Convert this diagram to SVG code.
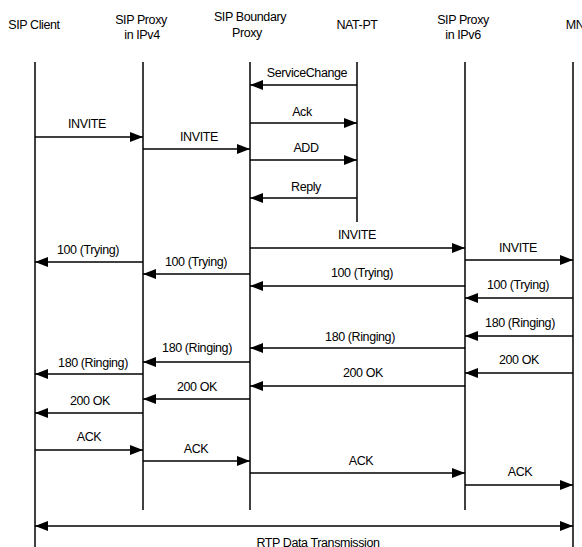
<svg xmlns="http://www.w3.org/2000/svg" width="582" height="547" viewBox="0 0 582 547">
<style>
text{font-family:"Liberation Sans",Arial,sans-serif;font-size:12.5px;letter-spacing:-0.4px;fill:#000;text-anchor:middle}
.life{stroke:#000;stroke-width:1.5;fill:none}
.msg{stroke:#000;stroke-width:1.3;fill:none;marker-end:url(#ah)}
</style>
<defs>
<marker id="ah" markerWidth="13" markerHeight="10" refX="13" refY="5" orient="auto-start-reverse" markerUnits="userSpaceOnUse">
<path d="M0,0 L13,5 L0,10 z" fill="#000"/>
</marker>
</defs>
<rect width="582" height="547" fill="#fff"/>
<g id="sip-client">
<text x="34" y="29">SIP Client</text>
<line class="life" x1="35" y1="62" x2="35" y2="547"/>
</g>
<g id="sip-proxy-ipv4">
<text x="141" y="24">SIP Proxy</text>
<text x="142" y="39">in IPv4</text>
<line class="life" x1="143" y1="62" x2="143" y2="510"/>
</g>
<g id="sip-boundary-proxy">
<text x="250" y="21">SIP Boundary</text>
<text x="247" y="37">Proxy</text>
<line class="life" x1="250" y1="62" x2="250" y2="510"/>
</g>
<g id="nat-pt">
<text x="357" y="29">NAT-PT</text>
<line class="life" x1="357" y1="62" x2="357" y2="222"/>
</g>
<g id="sip-proxy-ipv6">
<text x="463" y="24">SIP Proxy</text>
<text x="463" y="39">in IPv6</text>
<line class="life" x1="465" y1="62" x2="465" y2="510"/>
</g>
<g id="mn">
<text x="575" y="29">MN</text>
<line class="life" x1="573" y1="62" x2="573" y2="547"/>
</g>
<g id="connectors">
<line class="msg" x1="357" y1="85" x2="250" y2="85"/>
<text x="307" y="77">ServiceChange</text>
<line class="msg" x1="250" y1="123" x2="357" y2="123"/>
<text x="302" y="116">Ack</text>
<line class="msg" x1="250" y1="160" x2="357" y2="160"/>
<text x="306" y="152">ADD</text>
<line class="msg" x1="357" y1="198" x2="250" y2="198"/>
<text x="306" y="191">Reply</text>
<line class="msg" x1="35" y1="137" x2="143" y2="137"/>
<text x="87" y="128">INVITE</text>
<line class="msg" x1="143" y1="149" x2="250" y2="149"/>
<text x="199" y="141">INVITE</text>
<line class="msg" x1="250" y1="248" x2="465" y2="248"/>
<text x="357" y="239">INVITE</text>
<line class="msg" x1="465" y1="260" x2="573" y2="260"/>
<text x="518" y="252">INVITE</text>
<line class="msg" x1="143" y1="262" x2="35" y2="262"/>
<text x="88" y="254">100 (Trying)</text>
<line class="msg" x1="250" y1="274" x2="143" y2="274"/>
<text x="196" y="266">100 (Trying)</text>
<line class="msg" x1="465" y1="286" x2="250" y2="286"/>
<text x="362" y="277">100 (Trying)</text>
<line class="msg" x1="573" y1="298" x2="465" y2="298"/>
<text x="518" y="289">100 (Trying)</text>
<line class="msg" x1="573" y1="336" x2="465" y2="336"/>
<text x="520" y="327">180 (Ringing)</text>
<line class="msg" x1="465" y1="348" x2="250" y2="348"/>
<text x="360" y="341">180 (Ringing)</text>
<line class="msg" x1="250" y1="362" x2="143" y2="362"/>
<text x="197" y="352">180 (Ringing)</text>
<line class="msg" x1="143" y1="374" x2="35" y2="374"/>
<text x="93" y="367">180 (Ringing)</text>
<line class="msg" x1="573" y1="373" x2="465" y2="373"/>
<text x="519" y="364">200 OK</text>
<line class="msg" x1="465" y1="386" x2="250" y2="386"/>
<text x="363" y="377">200 OK</text>
<line class="msg" x1="250" y1="399" x2="143" y2="399"/>
<text x="197" y="391">200 OK</text>
<line class="msg" x1="143" y1="413" x2="35" y2="413"/>
<text x="90" y="405">200 OK</text>
<line class="msg" x1="35" y1="450" x2="143" y2="450"/>
<text x="89" y="441">ACK</text>
<line class="msg" x1="143" y1="461" x2="250" y2="461"/>
<text x="196" y="453">ACK</text>
<line class="msg" x1="250" y1="473" x2="465" y2="473"/>
<text x="361" y="465">ACK</text>
<line class="msg" x1="465" y1="485" x2="573" y2="485"/>
<text x="520" y="476">ACK</text>
<line class="msg" x1="35" y1="526" x2="573" y2="526" style="marker-start:url(#ah)"/>
<text x="318" y="547">RTP Data Transmission</text>
</g>
</svg>
